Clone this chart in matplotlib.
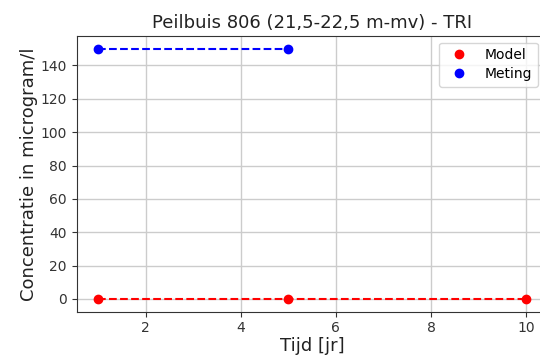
import matplotlib
matplotlib.use("Agg")
import matplotlib.pyplot as plt

plt.rcParams["font.family"] = ["DejaVu Sans"]

# Model- en meetwaarden TRI, peilbuis 806
model_tijd = [1, 5, 10]
model_conc = [0, 0, 0]
meting_tijd = [1, 5]
meting_conc = [150, 150]

fig = plt.figure(figsize=(5.4, 3.56), dpi=100)
ax = fig.add_axes([0.142, 0.125, 0.872, 0.773])

ax.plot(model_tijd, model_conc, "r--", linewidth=1.5)
ax.plot(model_tijd, model_conc, "ro", markersize=6, label="Model")
ax.plot(meting_tijd, meting_conc, "b--", linewidth=1.5)
ax.plot(meting_tijd, meting_conc, "bo", markersize=6, label="Meting")

ax.set_title("Peilbuis 806 (21,5-22,5 m-mv) - TRI", fontsize=13, color="#222222")
ax.set_xlabel("Tijd [jr]", fontsize=13, labelpad=1, color="#222222")
ax.set_ylabel("Concentratie in microgram/l", fontsize=13, labelpad=2, color="#222222")
ax.tick_params(labelsize=10, colors="#333333")
ax.grid(True, color="#cccccc", linewidth=1)
for s in ax.spines.values():
    s.set_color("#333333")
ax.legend(loc="upper right", bbox_to_anchor=(0.993, 1.0), fontsize=10,
          handletextpad=0.9, labelspacing=0.35, borderaxespad=0.45)

fig.savefig("out.png", dpi=100)
